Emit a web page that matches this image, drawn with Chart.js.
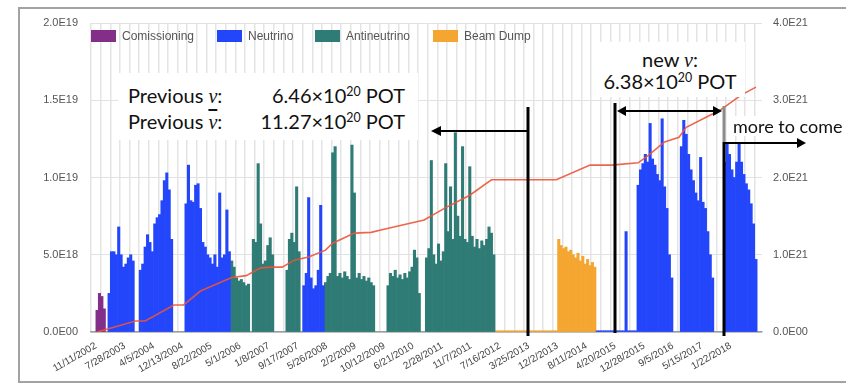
<!DOCTYPE html>
<html>
<head>
<meta charset="utf-8">
<script src="https://cdn.jsdelivr.net/npm/chart.js"></script>
<style>
  body { margin: 0; width: 846px; height: 385px; overflow: hidden; background: #fff; font-family: 'Liberation Sans', Arial, sans-serif; }
  #wrap { position: relative; width: 846px; height: 385px; }
  #frame { position: absolute; left: 18px; top: 7px; width: 840px; height: 372px; border: 2px solid #a3a3a3; }
  canvas { position: absolute; left: 0; top: 0; }
  .legend { position: absolute; top: 30px; height: 13px; font-size: 12px; color: #555; line-height: 13px; }
  .legend i { position: absolute; left: 0; top: 0; width: 25px; height: 12px; }
  .legend span { position: absolute; left: 31px; top: 0; white-space: nowrap; }
  .note { position: absolute; background: #fff; font-family: Lato, sans-serif; color: #111; line-height: 20px; white-space: nowrap; }
  .nu { font-family: 'Liberation Serif', serif; font-style: italic; }
  .bar { text-decoration: overline; }
  sup { font-size: 0.62em; vertical-align: 0.6em; line-height: 0; }
  svg { position: absolute; left: 0; top: 0; }
</style>
</head>
<body>
<div id="wrap">
  <div id="frame"></div>
  <canvas id="pot" width="846" height="385"></canvas>

  <div class="legend" style="left:91px"><i id="lg0"></i><span>Comissioning</span></div>
  <div class="legend" style="left:217px"><i id="lg1"></i><span>Neutrino</span></div>
  <div class="legend" style="left:315px"><i id="lg2"></i><span>Antineutrino</span></div>
  <div class="legend" style="left:433px"><i id="lg3"></i><span>Beam Dump</span></div>

  <div class="note" style="left:118px;top:73px;width:300px;height:67px;font-size:20px">
    <div style="position:absolute;left:10px;top:12px">Previous <span class="nu">ν</span>:</div>
    <div style="position:absolute;right:13px;top:12px">6.46×10<sup>20</sup> POT</div>
    <div style="position:absolute;left:10px;top:38px">Previous <span class="nu bar">ν</span>:</div>
    <div style="position:absolute;right:13px;top:38px">11.27×10<sup>20</sup> POT</div>
  </div>

  <div class="note" style="left:595px;top:42px;width:150px;height:55px;font-size:20px;text-align:center">
    <div style="position:absolute;left:0;right:0;top:7px">new <span class="nu">ν</span>:</div>
    <div style="position:absolute;left:0;right:0;top:29px">6.38×10<sup>20</sup> POT</div>
  </div>

  <div class="note" style="left:731px;top:116px;font-size:18px;padding:0 2px">more to come</div>

  <svg width="846" height="385">
    <line x1="528" y1="107" x2="528" y2="336" stroke="#000" stroke-width="3"/>
    <line x1="440" y1="131" x2="528" y2="131" stroke="#000" stroke-width="2"/>
    <polygon points="431,131 441,126 441,136" fill="#000"/>

    <line x1="615" y1="103" x2="615" y2="333" stroke="#000" stroke-width="3"/>
    <line x1="624" y1="111" x2="715" y2="111" stroke="#000" stroke-width="2"/>
    <polygon points="617,111 626,106 626,116" fill="#000"/>
    <polygon points="722,111 713,106 713,116" fill="#000"/>
    <line x1="724" y1="106" x2="724" y2="142" stroke="#8c8c8c" stroke-width="3"/>
    <line x1="724" y1="142" x2="724" y2="336" stroke="#000" stroke-width="3"/>

    <line x1="724" y1="143" x2="798" y2="143" stroke="#000" stroke-width="2"/>
    <polygon points="806,143 797,138 797,148" fill="#000"/>
  </svg>
</div>

<script>
// x axis: one bin = 3 weeks, labels every 12 bins
const tickLabels = ['11/11/2002', '7/28/2003', '4/5/2004', '12/13/2004', '8/22/2005', '5/1/2006',
  '1/8/2007', '9/17/2007', '5/26/2008', '2/2/2009', '10/12/2009', '6/21/2010', '2/28/2011',
  '11/7/2011', '7/16/2012', '3/25/2013', '12/2/2013', '8/11/2014', '4/20/2015', '12/28/2015',
  '9/5/2016', '5/15/2017', '1/22/2018'];
const binCount = 275;

// weekly POT, in 1e18, each run starts at its bin
const comissioning = [1.4, 2.5, 2.3, 1.5];
const comissioningStart = 0;

const nuRun1 = [2.5, 5.2, 5.2, 5.0, 6.8, 5.0, 4.2, 4.4, 4.8, 5.0, 4.6];
const nuRun2 = [4.0, 4.4, 5.5, 6.3, 5.8, 5.2, 7.0, 7.4, 7.6, 8.5, 9.8, 10.3, 9.2, 6.0];
const nuRun3 = [8.3, 10.8, 8.5, 8.4, 9.5, 9.6, 8.0, 5.8, 5.5, 5.0, 4.8, 4.4, 5.0, 4.2, 9.0, 4.8, 5.0, 7.9, 5.2];
const nuRun4 = [3.0, 3.8, 8.7, 3.5, 2.8, 3.0, 4.0, 8.2, 3.0];
const nuRun5 = [0.08, 0.08, 0.08, 0.08, 0.08, 0.08, 0.08, 0.08, 0.08, 0.08, 0.08, 0.08, 6.5, 0.08, 0.08, 0.08, 0.08];
const nuRun6 = [9.5, 10.5, 10.9, 11.5, 11.0, 13.5, 11.2, 10.8, 10.2, 9.8, 13.8, 9.4, 8.0, 5.0, 3.5];
const nuRun7 = [12.0, 13.7, 12.8, 11.5, 10.5, 9.8, 9.0, 8.5, 11.3, 8.4, 8.0, 6.5, 5.0, 3.5];
const nuRun8 = [11.0, 12.2, 11.5, 10.5, 10.0, 11.0, 12.2, 11.0, 10.2, 9.6, 9.2, 8.3, 7.0, 4.7];
const nuStarts = [5, 18, 37, 86, 208, 225, 243, 261];

const anuRun1 = [4.6, 4.2, 3.5, 3.3, 3.4, 3.2, 3.0, 3.1];
const anuRun2 = [6.0, 5.8, 10.9, 7.0, 4.4, 4.6, 5.6, 6.1, 5.0];
const anuRun3 = [4.0, 6.0, 6.4, 5.8, 9.4, 5.2];
const anuRun4 = [3.2, 3.6, 3.8, 11.6, 12.0, 3.6, 3.8, 3.5, 3.9, 3.6, 3.4, 12.1, 9.0, 3.5, 3.8, 3.4, 3.6, 3.3, 3.5, 3.2, 3.0];
const anuRun5 = [3.0, 3.8, 3.6, 4.0, 3.5, 3.7, 3.4, 3.8, 3.5, 3.9, 4.2, 5.3, 4.8, 2.5];
const anuRun6 = [4.8, 5.4, 11.1, 5.0, 4.4, 5.7, 4.6, 5.2, 10.9, 6.5, 9.4, 6.0, 12.9, 7.5, 6.2, 12.0, 6.0, 5.8, 10.7, 6.2,
  5.5, 6.0, 5.4, 5.9, 5.6, 6.0, 6.8, 6.4, 5.0];
const anuStarts = [56, 65, 79, 95, 121, 137];

const beamDump = [0.08, 0.08, 0.08, 0.08, 0.08, 0.08, 0.08, 0.08, 0.08, 0.08, 0.08, 0.08, 0.08,
  0.08, 0.08, 0.08, 0.08, 0.08, 0.08, 0.08, 0.08, 0.08, 0.08, 0.08, 0.08, 0.08,
  6.0, 5.6, 5.4, 5.5, 5.2, 5.3, 5.0, 4.8, 5.1, 4.6, 4.9, 4.4, 4.7, 4.3, 4.5, 4.2];
const beamDumpStart = 166;

// accumulated POT (1e20) read at these bins
const potBin = [0, 16, 20, 32, 36, 43, 56, 62, 68, 73, 77, 82, 88, 95, 98, 107, 114, 118, 136, 145,
  155, 164, 191, 205, 214, 225, 229, 236, 242, 245, 259, 268, 274];
const potTotal = [0, 1.42, 1.42, 3.5, 3.5, 5.3, 7.05, 7.3, 8.3, 8.4, 8.4, 9.3, 9.7, 10.6, 11.5, 12.8, 12.9, 13.2, 14.5, 16.1,
  17.7, 19.7, 19.7, 21.6, 21.6, 21.9, 22.8, 24.6, 25.2, 26.5, 28.7, 30.7, 31.7];

const colors = ['#832f8a', '#2446fb', '#2f7b75', '#f4a631'];
colors.forEach((c, k) => { document.getElementById('lg' + k).style.background = c; });

function toPoints(runs, starts) {
  const pts = [];
  runs.forEach((vals, r) => vals.forEach((v, k) => pts.push({ x: starts[r] + k, y: v * 1e18 })));
  return pts;
}

function sci(v) {
  if (v === 0) return '0.0E00';
  return v.toExponential(1).replace('e+', 'E');
}

const gridTicks = [];
for (let v = -0.5; v < binCount; v += 4) gridTicks.push(v);

const barOpts = { type: 'bar', grouped: false, barPercentage: 1, categoryPercentage: 1, borderWidth: 0, order: 1 };

new Chart(document.getElementById('pot'), {
  data: {
    datasets: [
      {
        type: 'line',
        label: 'Total POT',
        data: potBin.map((b, k) => ({ x: b, y: potTotal[k] * 1e20 })),
        yAxisID: 'y1',
        borderColor: 'rgba(236, 84, 58, 0.9)',
        borderWidth: 1.6,
        pointRadius: 0,
        tension: 0,
        order: 0
      },
      { ...barOpts, label: 'Comissioning', data: toPoints([comissioning], [comissioningStart]), backgroundColor: colors[0] },
      { ...barOpts, label: 'Neutrino', data: toPoints([nuRun1, nuRun2, nuRun3, nuRun4, nuRun5, nuRun6, nuRun7, nuRun8], nuStarts), backgroundColor: colors[1] },
      { ...barOpts, label: 'Antineutrino', data: toPoints([anuRun1, anuRun2, anuRun3, anuRun4, anuRun5, anuRun6], anuStarts), backgroundColor: colors[2] },
      { ...barOpts, label: 'Beam Dump', data: toPoints([beamDump], [beamDumpStart]), backgroundColor: colors[3] }
    ]
  },
  options: {
    responsive: false,
    animation: false,
    layout: { padding: { top: 23, left: 0, right: 0, bottom: 0 } },
    plugins: { legend: { display: false }, tooltip: { enabled: false } },
    scales: {
      x: {
        type: 'linear',
        min: -0.5,
        max: binCount - 0.5,
        afterBuildTicks: (scale) => { scale.ticks = gridTicks.map(v => ({ value: v })); },
        afterFit: (scale) => { scale.height = 53; },
        grid: { color: '#e4e4e4', lineWidth: 1.5, drawTicks: false },
        border: { display: true, color: '#9c9c9c', width: 1.5 },
        ticks: {
          autoSkip: false,
          minRotation: 30,
          maxRotation: 30,
          padding: 8,
          color: '#444',
          font: { family: 'Liberation Sans', size: 10 },
          callback: (v) => ((v + 0.5) % 12 === 0 ? tickLabels[(v + 0.5) / 12] : '')
        }
      },
      y: {
        position: 'left',
        min: 0,
        max: 2e19,
        afterFit: (scale) => { scale.width = 91; },
        grid: { color: '#e2e2e2', lineWidth: 1, drawTicks: false },
        border: { display: false },
        ticks: {
          stepSize: 5e18,
          padding: 13,
          color: '#555',
          font: { family: 'Liberation Sans', size: 11 },
          callback: sci
        }
      },
      y1: {
        position: 'right',
        min: 0,
        max: 4e21,
        afterFit: (scale) => { scale.width = 84; },
        grid: { drawOnChartArea: false, drawTicks: false },
        border: { display: false },
        ticks: {
          stepSize: 1e21,
          padding: 11,
          color: '#555',
          font: { family: 'Liberation Sans', size: 11 },
          callback: sci
        }
      }
    }
  }
});
</script>
</body>
</html>
